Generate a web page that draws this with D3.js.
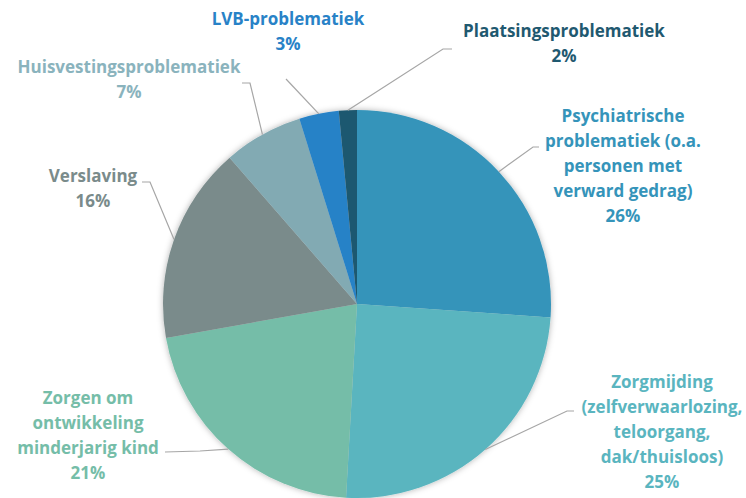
<!DOCTYPE html>
<html>
<head>
<meta charset="utf-8">
<script src="https://cdn.jsdelivr.net/npm/d3@7"></script>
<style>
  body { margin: 0; background: #fff; }
  text { font-family: "Open Sans", Lato, sans-serif; font-weight: bold; }
</style>
</head>
<body>
<div id="chart"></div>
<script>
// categories (label lines as shown) and their shares in percent
var categories = [
    ["Psychiatrische", "problematiek (o.a.", "personen met", "verward gedrag)"],
    ["Zorgmijding", "(zelfverwaarlozing,", "teloorgang,", "dak/thuisloos)"],
    ["Zorgen om", "ontwikkeling", "minderjarig kind"],
    ["Verslaving"],
    ["Huisvestingsproblematiek"],
    ["LVB-problematiek"],
    ["Plaatsingsproblematiek"]
];
var values = [26.1, 24.8, 21.3, 16.4, 6.6, 3.3, 1.5];

var sliceColors = ["#3594ba", "#5ab5bf", "#75bda8", "#7a8b8b", "#82aab3", "#2882c7", "#1f5970"];
var labelColors = ["#3594ba", "#5ab5bf", "#75bda8", "#7a8b8b", "#8ab3bd", "#2882c7", "#1f5970"];

// label placement: text centre x, first line y, leader elbow and end
var labelLayout = [
    {x: 623, y: 117, elbow: [533, 147], end: [539, 147]},
    {x: 662, y: 383, elbow: [567, 411], end: [574, 411]},
    {x: 88,  y: 399, elbow: [200, 451], end: [165, 452]},
    {x: 93,  y: 177, elbow: [150, 182], end: [142, 182]},
    {x: 129, y: 68,  elbow: [250, 83],  end: [242, 83]},
    {x: 288, y: 20,  elbow: [286, 79],  end: [286, 79]},
    {x: 564, y: 32,  elbow: [443, 49],  end: [452, 49]}
];

var width = 746, height = 498;
var cx = 357, cy = 304, radius = 194, lineH = 25;

var svg = d3.select("#chart").append("svg")
    .attr("width", width)
    .attr("height", height);

var defs = svg.append("defs");
var filt = defs.append("filter").attr("id", "shadow")
    .attr("x", "-10%").attr("y", "-10%").attr("width", "120%").attr("height", "120%");
filt.append("feDropShadow")
    .attr("dx", 0).attr("dy", 0).attr("stdDeviation", 3)
    .attr("flood-color", "#000").attr("flood-opacity", 0.3);

var pie = d3.pie().sort(null).value(function(d) { return d; });
var arcs = pie(values);
var arc = d3.arc().innerRadius(0).outerRadius(radius);

var g = svg.append("g").attr("transform", "translate(" + cx + "," + cy + ")");

g.append("g").attr("filter", "url(#shadow)")
    .selectAll("path")
    .data(arcs)
    .enter().append("path")
    .attr("d", arc)
    .attr("fill", function(d, i) { return sliceColors[i]; });

// leader lines start on the rim at the middle of each slice
svg.selectAll(".leader")
    .data(arcs)
    .enter().append("polyline")
    .attr("class", "leader")
    .attr("fill", "none")
    .attr("stroke", "#a6a6a6")
    .attr("stroke-width", 1.2)
    .attr("points", function(d, i) {
        var a = (d.startAngle + d.endAngle) / 2;
        var p = [cx + radius * Math.sin(a), cy - radius * Math.cos(a)];
        var L = labelLayout[i];
        return [p, L.elbow, L.end].map(function(q) { return q.join(","); }).join(" ");
    });

// labels
arcs.forEach(function(d, i) {
    var L = labelLayout[i];
    var lines = categories[i].concat([Math.round(values[i]) + "%"]);
    var t = svg.append("text")
        .attr("x", L.x)
        .attr("y", L.y)
        .attr("text-anchor", "middle")
        .attr("dominant-baseline", "middle")
        .attr("fill", labelColors[i])
        .style("font-size", "17px");
    lines.forEach(function(s, k) {
        t.append("tspan")
            .attr("x", L.x)
            .attr("y", L.y + k * lineH)
            .text(s);
    });
});
</script>
</body>
</html>
